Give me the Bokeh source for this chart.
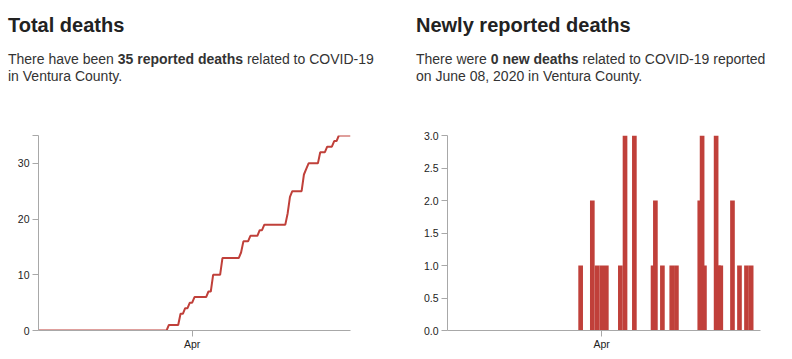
import pandas as pd
from bokeh.plotting import figure
from bokeh.models import Div, Range1d, FixedTicker, DatetimeTickFormatter, PrintfTickFormatter, ColumnDataSource
from bokeh.layouts import row, column
from bokeh.embed import file_html
from bokeh.resources import INLINE

# ---------------- data ----------------
start_date = "2020-01-26"
end_date = "2020-06-08"
report_dates = ["2020-03-22", "2020-03-27", "2020-03-29", "2020-03-31", "2020-04-02",
                "2020-04-08", "2020-04-10", "2020-04-14", "2020-04-22", "2020-04-23",
                "2020-04-26", "2020-04-30", "2020-05-02", "2020-05-12", "2020-05-13",
                "2020-05-14", "2020-05-19", "2020-05-20", "2020-05-21", "2020-05-26",
                "2020-05-29", "2020-06-01", "2020-06-03"]
new_deaths = [1, 2, 1, 1, 1, 1, 3, 3, 1, 2, 1, 1, 1, 2, 3, 1, 3, 1, 1, 2, 1, 1, 1]
total_deaths = [1, 3, 4, 5, 6, 7, 10, 13, 14, 16, 17, 18, 19, 21, 24, 25, 28, 29, 30, 32, 33, 34, 35]
x_tick_dates = ["2020-04-01"]
x_tick_labels = ["Apr"]
total_ticks = [0, 10, 20, 30]
new_ticks = [0, 0.5, 1, 1.5, 2, 2.5, 3]

title_left = "Total deaths"
text_left = "There have been <b>35 reported deaths</b> related to COVID-19<br>in Ventura County."
title_right = "Newly reported deaths"
text_right = "There were <b>0 new deaths</b> related to COVID-19 reported<br>on June 08, 2020 in Ventura County."

# ---------------- styles ----------------
RED = "#c0403a"
AXIS = "#a8a8a8"
FONT = "Liberation Sans"

days = pd.date_range(start_date, end_date, freq="D")
totals = (pd.Series(total_deaths, index=pd.to_datetime(report_dates))
          .reindex(days).ffill().fillna(0))
line_src = ColumnDataSource(dict(date=days, total=totals.values))
bar_src = ColumnDataSource(dict(
    date=pd.to_datetime(report_dates) + pd.Timedelta(days=1),
    new=new_deaths))

tick_ms = [pd.Timestamp(d).value // 10**6 for d in x_tick_dates]
overrides = {float(t): lab for t, lab in zip(tick_ms, x_tick_labels)}
fmt_all = "%b"
dt_fmt = DatetimeTickFormatter(microseconds=fmt_all, milliseconds=fmt_all, seconds=fmt_all,
                               minsec=fmt_all, minutes=fmt_all, hourmin=fmt_all, hours=fmt_all,
                               days=fmt_all, months=fmt_all, years=fmt_all)


def header(title, text, width):
    html = (
        f'<div style="font-family:\'{FONT}\',Arial,sans-serif;font-size:20px;font-weight:bold;'
        f'color:#222;line-height:24px;margin:5px 0 0 0;padding:0;white-space:nowrap;">{title}</div>'
        f'<div style="font-family:\'{FONT}\',Arial,sans-serif;font-size:14px;color:#333;'
        f'line-height:17px;margin:14px 0 0 0;padding:0;white-space:nowrap;">{text}</div>'
    )
    return Div(text=html, width=width, height=112, margin=(0, 0, 0, 0))


def style(p):
    p.xgrid.visible = False
    p.ygrid.visible = False
    p.outline_line_color = None
    p.background_fill_color = "white"
    p.border_fill_color = "white"
    for ax in (p.xaxis[0], p.yaxis[0]):
        ax.axis_line_color = AXIS
        ax.axis_line_width = 1
        ax.major_tick_line_color = AXIS
        ax.major_tick_in = 0
        ax.major_tick_out = 6
        ax.minor_tick_in = 0
        ax.minor_tick_out = 0
        ax.major_label_text_font = FONT
        ax.major_label_text_font_size = "10.5px"
        ax.major_label_text_color = "#222"
        ax.major_label_standoff = 3
    p.xaxis[0].major_label_standoff = 1
    p.xaxis[0].ticker = FixedTicker(ticks=tick_ms)
    p.xaxis[0].formatter = dt_fmt
    p.xaxis[0].major_label_overrides = overrides


x0 = pd.Timestamp(start_date)
x1 = pd.Timestamp(end_date)

# ---------------- left: total deaths ----------------
p1 = figure(width=408, height=232, x_axis_type="datetime", output_backend="svg",
            toolbar_location=None, x_range=Range1d(x0, x1), y_range=Range1d(0, 35),
            min_border_left=30, min_border_right=66, min_border_top=15, min_border_bottom=22)
p1.line("date", "total", source=line_src, line_color=RED, line_width=2)
style(p1)
p1.yaxis[0].ticker = FixedTicker(ticks=total_ticks, minor_ticks=[35])
p1.yaxis[0].minor_tick_out = 6
p1.yaxis[0].minor_tick_line_color = AXIS

# ---------------- right: new deaths ----------------
p2 = figure(width=368, height=232, x_axis_type="datetime", output_backend="svg",
            toolbar_location=None, x_range=Range1d(x0, x1), y_range=Range1d(0, 3),
            min_border_left=31, min_border_right=24, min_border_top=15, min_border_bottom=22)
p2.vbar(x="date", top="new", bottom=0, width=2 * 86400000, source=bar_src,
        fill_color=RED, line_color=None)
style(p2)
p2.yaxis[0].ticker = FixedTicker(ticks=new_ticks)
p2.yaxis[0].formatter = PrintfTickFormatter(format="%.1f")

left = column(header(title_left, text_left, 408), p1, spacing=0)
right = column(header(title_right, text_right, 368), p2, spacing=0)
layout = row(left, right, spacing=0, margin=(8, 0, 0, 8))

open("out.html", "w").write(file_html(layout, INLINE))
